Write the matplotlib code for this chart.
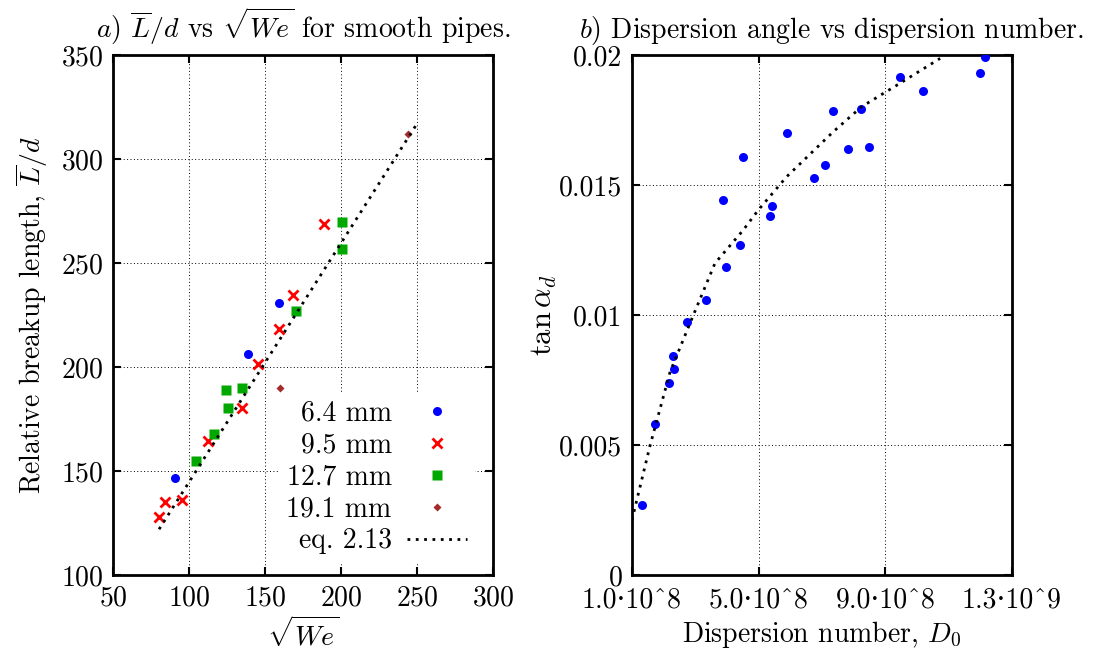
import matplotlib
matplotlib.use('Agg')
import matplotlib.pyplot as plt

plt.rcParams['font.family'] = ['cmr10', 'DejaVu Serif']
plt.rcParams['mathtext.fontset'] = 'cm'
plt.rcParams['axes.unicode_minus'] = False
plt.rcParams['axes.formatter.use_mathtext'] = True

# a) breakup length vs sqrt(We)
we_64 = [159.2, 138.8, 90.6]
ld_64 = [230.8, 206.3, 146.6]
we_95 = [188.6, 168.2, 159.2, 145.2, 135.1, 112.3, 84.4, 95.2, 80.3]
ld_95 = [268.6, 234.6, 218.5, 201.6, 180.1, 164.6, 135.1, 135.9, 128.0]
we_127 = [200.9, 200.9, 170.6, 124.5, 135.1, 125.9, 116.6, 104.4]
ld_127 = [269.6, 256.6, 226.8, 188.8, 190.1, 180.1, 167.8, 154.6]
we_191 = [243.9, 159.9]
ld_191 = [311.9, 190.1]
we_eq = [80.3, 250.2]
ld_eq = [122.0, 317.2]

# b) dispersion angle vs dispersion number
d0 = [1.305e8, 1.737e8, 2.179e8, 2.326e8, 2.295e8, 2.747e8, 3.337e8, 3.958e8,
      4.40e8, 3.884e8, 4.496e8, 5.358e8, 5.421e8, 5.895e8, 6.757e8, 7.085e8,
      7.347e8, 7.83e8, 8.232e8, 8.474e8, 9.453e8, 1.019e9, 1.199e9, 1.2147e9]
tan_a = [0.00269, 0.00581, 0.00737, 0.00791, 0.00842, 0.00973, 0.01057, 0.01185,
         0.0127, 0.01443, 0.01607, 0.0138, 0.01419, 0.01701, 0.01527, 0.01577,
         0.01786, 0.0164, 0.01794, 0.01645, 0.01915, 0.0186, 0.01932, 0.01991]
d0_fit = [1.0e8, 1.568e8, 2.2e8, 2.83e8, 3.62e8, 4.515e8, 4.99e8, 5.885e8,
          7.357e8, 8.25e8, 9.46e8, 1.073e9]
tan_fit = [0.00212, 0.00497, 0.0078, 0.00968, 0.01199, 0.01327, 0.01404, 0.01532,
           0.01705, 0.01801, 0.01891, 0.01987]

x_ticks_b = [1.0e8, 5.0e8, 9.0e8, 1.3e9]
x_labels_b = ['1.0·10^8', '5.0·10^8', '9.0·10^8', '1.3·10^9']
y_ticks_b = [0, 0.005, 0.01, 0.015, 0.02]
y_labels_b = ['0', '0.005', '0.01', '0.015', '0.02']

fs = 20
fig = plt.figure(figsize=(10.98, 6.54), dpi=100)
ax1 = fig.add_axes([113 / 1098, 79 / 654, 380 / 1098, 520 / 654])
ax2 = fig.add_axes([632 / 1098, 79 / 654, 380 / 1098, 520 / 654])

dot = (0, (1, 2))

ax1.plot(we_64, ld_64, 'o', color='#0000ff', ms=6.5, mec='none', label='6.4 mm', zorder=3)
ax1.plot(we_95, ld_95, 'x', color='#ff0000', ms=7, mew=2, label='9.5 mm', zorder=3)
ax1.plot(we_127, ld_127, 's', color='#00a800', ms=6.5, mec='none', label='12.7 mm', zorder=3)
ax1.plot(we_191, ld_191, 'D', color='#a52a2a', ms=4, mec='none', label='19.1 mm', zorder=3)
ax1.plot(we_eq, ld_eq, color='black', lw=2, linestyle=dot, label='eq. 2.13', zorder=3)

ax1.set_xlim(50, 300)
ax1.set_ylim(100, 350)
ax1.set_xticks([50, 100, 150, 200, 250, 300])
ax1.set_yticks([100, 150, 200, 250, 300, 350])
ax1.set_xlabel(r'$\sqrt{We}$', fontsize=fs, labelpad=4)
ax1.set_ylabel(r'Relative breakup length, $\overline{L}/d$', fontsize=fs, labelpad=8)
ax1.set_title(r'$a$) $\overline{L}/d$ vs $\sqrt{We}$ for smooth pipes.', fontsize=fs, pad=12)

leg = ax1.legend(loc='lower right', bbox_to_anchor=(0.99, -0.003), fontsize=fs,
                 markerfirst=False, frameon=True, fancybox=False, framealpha=1,
                 edgecolor='none', handlelength=2.16, handletextpad=0.55,
                 labelspacing=0.2, borderpad=0.3)
leg.set_zorder(2)

ax2.plot(d0, tan_a, 'o', color='#0000ff', ms=6.5, mec='none', zorder=3)
ax2.plot(d0_fit, tan_fit, color='black', lw=2, linestyle=dot, zorder=3)
ax2.set_xlim(1.0e8, 1.3e9)
ax2.set_ylim(0, 0.02)
ax2.set_xticks(x_ticks_b)
ax2.set_xticklabels(x_labels_b)
ax2.set_yticks(y_ticks_b)
ax2.set_yticklabels(y_labels_b)
ax2.set_xlabel(r'Dispersion number, $D_0$', fontsize=fs, labelpad=4)
ax2.set_ylabel(r'$\tan\alpha_d$', fontsize=fs + 2, labelpad=0)
ax2.set_title(r'$b$) Dispersion angle vs dispersion number.', fontsize=fs, pad=12, x=0.525)

for ax in (ax1, ax2):
    ax.set_axisbelow(True)
    ax.grid(True, color='black', linestyle=(0, (1, 2.5)), linewidth=0.7)
    ax.tick_params(direction='in', top=True, right=True, length=6, width=1.5,
                   labelsize=fs, pad=7)
    for sp in ax.spines.values():
        sp.set_linewidth(2)

# keep the lone "0" from running into the first D0 label
ax2.tick_params(axis='x', pad=9)

plt.savefig('out.png', dpi=100)
